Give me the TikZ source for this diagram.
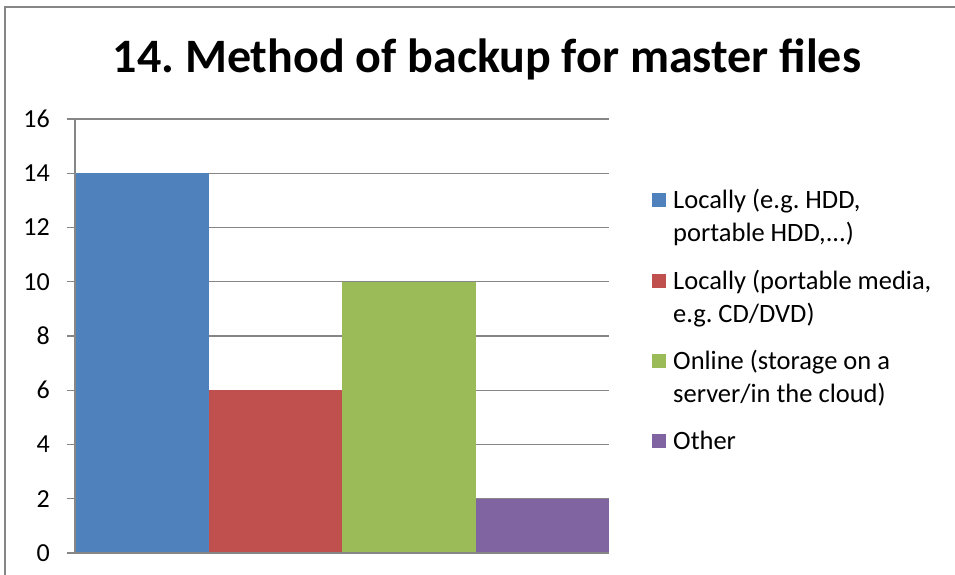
\documentclass[tikz,border=0pt]{standalone}
\usepackage{fontspec}
\setmainfont{Carlito}
\usetikzlibrary{positioning}
\frenchspacing

\definecolor{barblue}{HTML}{4F81BD}
\definecolor{barred}{HTML}{C0504D}
\definecolor{bargreen}{HTML}{9BBB59}
\definecolor{barpurple}{HTML}{8064A2}
\definecolor{gridgrey}{HTML}{868686}

\tikzset{
  gridline/.style={gridgrey, line width=1.3pt},
  ticklabel/.style={anchor=east, inner sep=0pt, font=\fontsize{26}{30}\selectfont},
  legendbox/.style={minimum size=14pt, inner sep=0pt, fill=#1},
  legendtext/.style={anchor=base west, inner sep=0pt, align=left,
    font=\fontsize{26.5}{33}\selectfont},
}

\begin{document}
\begin{tikzpicture}[x=1pt,y=-1pt]
  \useasboundingbox (0,0) rectangle (955,575);
  \draw[gridgrey, line width=1.5pt] (5,575) |- (955,7);

  \node[anchor=base, inner sep=0pt, font=\bfseries\fontsize{48}{56}\selectfont]
    (title) at (487,73) {14. Method of backup for master files};

  % grid and y labels, 27.125 per unit
  \foreach \v in {2,4,...,16} {
    \draw[gridline] (67,{553-27.125*\v}) -- (609,{553-27.125*\v});
  }
  \foreach \v in {0,2,...,16}
    \node[ticklabel] (tick\v) at (50,{553-27.125*\v}) {\v};

  % bars
  \foreach \val/\col [count=\i from 0] in {14/barblue, 6/barred, 10/bargreen, 2/barpurple}
    \fill[\col] ({75+133.5*\i},553) rectangle ({75+133.5*(\i+1)},{553-27.125*\val});

  \draw[gridline] (67,553) -- (609,553);
  \draw[gridline] (75,119) -- (75,553);
  \foreach \v in {0,2,...,14}
    \draw[gridline] (67,{553-27.125*\v}) -- (75,{553-27.125*\v});

  % legend (base anchor sits on the last line)
  \node[legendbox=barblue] (key1) at (659,200) {};
  \node[legendtext] (lab1) at (673,241) {Locally (e.g. HDD,\\portable HDD,...)};
  \node[legendbox=barred] (key2) at (659,281) {};
  \node[legendtext] (lab2) at (673,322) {Locally (portable media,\\e.g. CD/DVD)};
  \node[legendbox=bargreen] (key3) at (659,361) {};
  \node[legendtext] (lab3) at (673,402) {Online (storage on a\\server/in the cloud)};
  \node[legendbox=barpurple] (key4) at (659,441) {};
  \node[legendtext] (lab4) at (673,449) {Other};
\end{tikzpicture}
\end{document}
